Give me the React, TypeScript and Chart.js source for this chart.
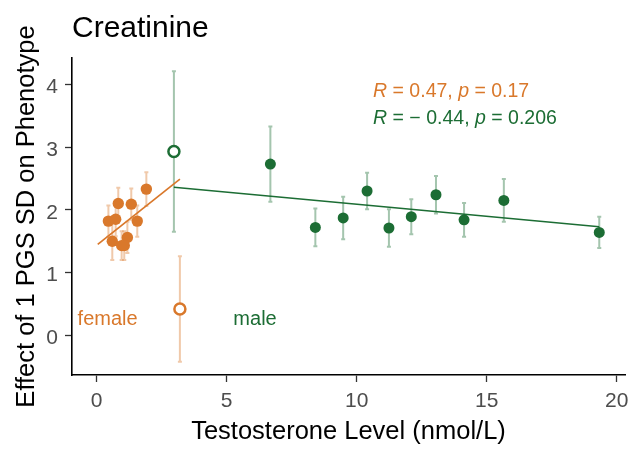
import React, { useEffect, useRef } from 'react';
import { Chart, registerables } from 'chart.js';
Chart.register(...registerables);

const femaleX = [1.91, 0.83, 1.33, 0.45, 0.73, 1.56, 0.60, 1.18, 0.96, 1.06];
const femaleY = [2.33, 2.10, 2.09, 1.82, 1.85, 1.82, 1.50, 1.56, 1.43, 1.43];
const femaleErr = [0.27, 0.25, 0.25, 0.25, 0.27, 0.25, 0.3, 0.25, 0.23, 0.23];

const maleX = [6.68, 8.41, 9.48, 10.40, 11.24, 12.10, 13.05, 14.13, 15.66, 19.33];
const maleY = [2.73, 1.72, 1.87, 2.30, 1.71, 1.89, 2.24, 1.84, 2.15, 1.64];
const maleErr = [0.6, 0.3, 0.34, 0.29, 0.3, 0.28, 0.3, 0.27, 0.34, 0.25];

const femaleOutX = [3.2];
const femaleOutY = [0.42];
const femaleOutErr = [0.84];
const maleOutX = [2.97];
const maleOutY = [2.93];
const maleOutErr = [1.28];

const femaleFitX = [0.04, 3.2];
const femaleFitY = [1.45, 2.49];
const maleFitX = [2.97, 19.33];
const maleFitY = [2.36, 1.73];

const xTicks = [0, 5, 10, 15, 20];
const yTicks = [0, 1, 2, 3, 4];

const ORANGE = '#D9782B';
const GREEN = '#1C6D34';
const ORANGE_LIGHT = 'rgba(217,120,43,0.4)';
const GREEN_LIGHT = 'rgba(28,109,52,0.4)';
const FONT = '"Liberation Sans", Arial, sans-serif';

const pts = (xs: number[], ys: number[]) => xs.map((x, i) => ({ x, y: ys[i] }));

const errorBarPlugin = {
  id: 'errorBars',
  beforeDatasetsDraw(chart: any) {
    const ctx = chart.ctx;
    const xs = chart.scales.x;
    const ys = chart.scales.y;
    chart.data.datasets.forEach((ds: any) => {
      if (!ds.errors) return;
      ctx.save();
      ctx.strokeStyle = ds.errorColor;
      ctx.lineWidth = 2;
      ds.data.forEach((p: any, i: number) => {
        const e = ds.errors[i];
        const px = xs.getPixelForValue(p.x);
        const y1 = ys.getPixelForValue(p.y + e);
        const y2 = ys.getPixelForValue(p.y - e);
        ctx.beginPath();
        ctx.moveTo(px, y1);
        ctx.lineTo(px, y2);
        ctx.moveTo(px - 2, y1);
        ctx.lineTo(px + 2, y1);
        ctx.moveTo(px - 2, y2);
        ctx.lineTo(px + 2, y2);
        ctx.stroke();
      });
      ctx.restore();
    });
  },
};

const drawSegments = (ctx: any, segs: [string, boolean][], x: number, y: number, size: number, color: string) => {
  let cx = x;
  ctx.fillStyle = color;
  ctx.textBaseline = 'middle';
  ctx.textAlign = 'left';
  segs.forEach(([t, it]) => {
    ctx.font = `${it ? 'italic ' : ''}${size}px ${FONT}`;
    ctx.fillText(t, cx, y);
    cx += ctx.measureText(t).width;
  });
};

const textPlugin = {
  id: 'texts',
  afterDraw(chart: any) {
    const ctx = chart.ctx;
    const xs = chart.scales.x;
    const ys = chart.scales.y;
    const area = chart.chartArea;
    ctx.save();
    ctx.fillStyle = '#000';
    ctx.font = `30px ${FONT}`;
    ctx.textAlign = 'left';
    ctx.textBaseline = 'alphabetic';
    ctx.fillText('Creatinine', area.left, 37);
    ctx.font = `25.5px ${FONT}`;
    ctx.textAlign = 'center';
    ctx.fillText('Testosterone Level (nmol/L)', (area.left + area.right) / 2, 439);
    ctx.save();
    ctx.translate(34, (area.top + area.bottom) / 2);
    ctx.rotate(-Math.PI / 2);
    ctx.fillText('Effect of 1 PGS SD on Phenotype', 0, 0);
    ctx.restore();
    ctx.textBaseline = 'middle';
    ctx.font = `20px ${FONT}`;
    ctx.fillStyle = ORANGE;
    ctx.fillText('female', xs.getPixelForValue(0.42), ys.getPixelForValue(0.25));
    ctx.fillStyle = GREEN;
    ctx.fillText('male', xs.getPixelForValue(6.09), ys.getPixelForValue(0.25));
    const sx = xs.getPixelForValue(10.63);
    drawSegments(ctx, [['R', true], [' = 0.47, ', false], ['p', true], [' = 0.17', false]], sx, ys.getPixelForValue(3.89), 19.5, ORANGE);
    drawSegments(ctx, [['R', true], [' = \u2212 0.44, ', false], ['p', true], [' = 0.206', false]], sx, ys.getPixelForValue(3.46), 19.5, GREEN);
    ctx.restore();
  },
};

export default function App() {
  const ref = useRef<HTMLCanvasElement>(null);
  useEffect(() => {
    document.body.style.margin = '0';
    const chart = new Chart(ref.current as HTMLCanvasElement, {
      type: 'scatter',
      data: {
        datasets: [
          { type: 'line', data: pts(femaleFitX, femaleFitY), borderColor: ORANGE, borderWidth: 1.7, pointRadius: 0, fill: false } as any,
          { type: 'line', data: pts(maleFitX, maleFitY), borderColor: GREEN, borderWidth: 1.7, pointRadius: 0, fill: false } as any,
          { data: pts(femaleX, femaleY), errors: femaleErr, errorColor: ORANGE_LIGHT, backgroundColor: ORANGE, borderWidth: 0, pointRadius: 5.7 } as any,
          { data: pts(maleX, maleY), errors: maleErr, errorColor: GREEN_LIGHT, backgroundColor: GREEN, borderWidth: 0, pointRadius: 5.5 } as any,
          { data: pts(femaleOutX, femaleOutY), errors: femaleOutErr, errorColor: ORANGE_LIGHT, backgroundColor: '#fff', borderColor: ORANGE, borderWidth: 2.5, pointRadius: 5.5 } as any,
          { data: pts(maleOutX, maleOutY), errors: maleOutErr, errorColor: GREEN_LIGHT, backgroundColor: '#fff', borderColor: GREEN, borderWidth: 2.5, pointRadius: 5.5 } as any,
        ],
      },
      options: {
        responsive: false,
        animation: false,
        layout: { padding: { left: 0, right: 15, top: 58, bottom: 0 } },
        plugins: { legend: { display: false }, tooltip: { enabled: false }, title: { display: false } },
        scales: {
          x: {
            type: 'linear',
            min: -0.95,
            max: 20.32,
            afterBuildTicks: (s: any) => { s.ticks = xTicks.map((v) => ({ value: v })); },
            afterFit: (s: any) => { s.height = 84; },
            ticks: { font: { size: 21, family: FONT }, color: '#4D4D4D', padding: 7, maxRotation: 0 },
            grid: { display: true, drawOnChartArea: false, drawTicks: true, tickLength: 7, tickColor: '#333', tickWidth: 1.3 },
            border: { display: true, color: '#000', width: 1.6 },
          },
          y: {
            type: 'linear',
            min: -0.633,
            max: 4.42,
            afterBuildTicks: (s: any) => { s.ticks = yTicks.map((v) => ({ value: v })); },
            afterFit: (s: any) => { s.width = 72; },
            ticks: { font: { size: 21, family: FONT }, color: '#4D4D4D', padding: 7, labelOffset: 3 },
            grid: { display: true, drawOnChartArea: false, drawTicks: true, tickLength: 7, tickColor: '#333', tickWidth: 1.3 },
            border: { display: true, color: '#000', width: 1.6 },
          },
        },
      } as any,
      plugins: [errorBarPlugin, textPlugin],
    });
    return () => chart.destroy();
  }, []);
  return (
    <div style={{ width: 640, height: 459 }}>
      <canvas ref={ref} width={640} height={459} />
    </div>
  );
}
